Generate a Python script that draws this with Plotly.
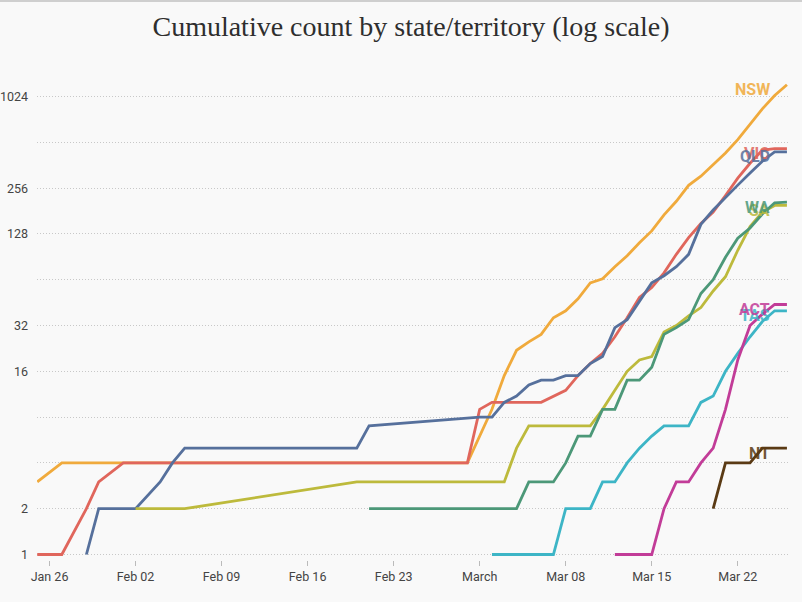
import math
from datetime import datetime, timedelta
import plotly.graph_objects as go

# ---------------- data ----------------
nsw_dates = ["2020-01-25", "2020-01-27", "2020-02-29", "2020-03-01", "2020-03-02", "2020-03-03",
             "2020-03-04", "2020-03-05", "2020-03-06", "2020-03-07", "2020-03-08", "2020-03-09",
             "2020-03-10", "2020-03-11", "2020-03-12", "2020-03-13", "2020-03-14", "2020-03-15",
             "2020-03-16", "2020-03-17", "2020-03-18", "2020-03-19", "2020-03-20", "2020-03-21",
             "2020-03-22", "2020-03-23", "2020-03-24", "2020-03-25", "2020-03-26"]
nsw_values = [3, 4, 4, 6, 9, 15, 22, 25, 28, 36, 40, 48, 61, 65, 78, 92, 112, 134, 171, 210,
              267, 307, 365, 436, 533, 675, 850, 1040, 1225]

vic_dates = ["2020-01-25", "2020-01-27", "2020-01-29", "2020-01-30", "2020-02-01", "2020-02-29",
             "2020-03-01", "2020-03-02", "2020-03-06", "2020-03-07", "2020-03-08", "2020-03-09",
             "2020-03-10", "2020-03-11", "2020-03-12", "2020-03-13", "2020-03-14", "2020-03-15",
             "2020-03-16", "2020-03-17", "2020-03-18", "2020-03-19", "2020-03-20", "2020-03-21",
             "2020-03-22", "2020-03-23", "2020-03-24", "2020-03-25", "2020-03-26"]
vic_values = [1, 1, 2, 3, 4, 4, 9, 10, 10, 11, 12, 15, 18, 21, 27, 36, 49, 57, 71, 94, 121,
              150, 178, 229, 298, 373, 455, 466, 466]

qld_dates = ["2020-01-29", "2020-01-30", "2020-02-02", "2020-02-04", "2020-02-05", "2020-02-06",
             "2020-02-20", "2020-02-21", "2020-03-01", "2020-03-02", "2020-03-03", "2020-03-04",
             "2020-03-05", "2020-03-06", "2020-03-07", "2020-03-08", "2020-03-09", "2020-03-10",
             "2020-03-11", "2020-03-12", "2020-03-13", "2020-03-14", "2020-03-15", "2020-03-16",
             "2020-03-17", "2020-03-18", "2020-03-19", "2020-03-20", "2020-03-21", "2020-03-22",
             "2020-03-23", "2020-03-24", "2020-03-25", "2020-03-26"]
qld_values = [1, 2, 2, 3, 4, 5, 5, 7, 8, 8, 10, 11, 13, 14, 14, 15, 15, 18, 20, 31, 35, 46,
              61, 68, 78, 94, 148, 184, 223, 268, 322, 385, 443, 443]

sa_dates = ["2020-02-02", "2020-02-06", "2020-02-20", "2020-03-03", "2020-03-04", "2020-03-05",
            "2020-03-10", "2020-03-11", "2020-03-12", "2020-03-13", "2020-03-14", "2020-03-15",
            "2020-03-16", "2020-03-17", "2020-03-18", "2020-03-19", "2020-03-20", "2020-03-21",
            "2020-03-22", "2020-03-23", "2020-03-24", "2020-03-25", "2020-03-26"]
sa_values = [2, 2, 3, 3, 5, 7, 7, 9, 12, 16, 19, 20, 29, 32, 37, 42, 54, 67, 100, 143, 178,
             197, 197]

wa_dates = ["2020-02-21", "2020-03-04", "2020-03-05", "2020-03-07", "2020-03-08", "2020-03-09",
            "2020-03-10", "2020-03-11", "2020-03-12", "2020-03-13", "2020-03-14", "2020-03-15",
            "2020-03-16", "2020-03-17", "2020-03-18", "2020-03-19", "2020-03-20", "2020-03-21",
            "2020-03-22", "2020-03-23", "2020-03-24", "2020-03-25", "2020-03-26"]
wa_values = [2, 2, 3, 3, 4, 6, 6, 9, 9, 14, 14, 17, 28, 31, 35, 52, 64, 90, 120, 140, 173,
             205, 207]

tas_dates = ["2020-03-02", "2020-03-07", "2020-03-08", "2020-03-10", "2020-03-11", "2020-03-12",
             "2020-03-13", "2020-03-14", "2020-03-15", "2020-03-16", "2020-03-18", "2020-03-19",
             "2020-03-20", "2020-03-21", "2020-03-22", "2020-03-23", "2020-03-24", "2020-03-25",
             "2020-03-26"]
tas_values = [1, 1, 2, 2, 3, 3, 4, 5, 6, 7, 7, 10, 11, 16, 21, 27, 34, 40, 40]

act_dates = ["2020-03-12", "2020-03-15", "2020-03-16", "2020-03-17", "2020-03-18", "2020-03-19",
             "2020-03-20", "2020-03-21", "2020-03-22", "2020-03-23", "2020-03-24", "2020-03-25",
             "2020-03-26"]
act_values = [1, 1, 2, 3, 3, 4, 5, 9, 19, 32, 38, 44, 44]

nt_dates = ["2020-03-20", "2020-03-21", "2020-03-23", "2020-03-24", "2020-03-26"]
nt_values = [2, 4, 4, 5, 5]

x_tick_dates = ["2020-01-26", "2020-02-02", "2020-02-09", "2020-02-16", "2020-02-23",
                "2020-03-01", "2020-03-08", "2020-03-15", "2020-03-22"]
x_tick_labels = ["Jan 26", "Feb 02", "Feb 09", "Feb 16", "Feb 23", "March", "Mar 08",
                 "Mar 15", "Mar 22"]
y_tick_values = [1, 2, 4, 8, 16, 32, 64, 128, 256, 512, 1024]
y_tick_labels = ["1", "2", "", "", "16", "32", "", "128", "256", "", "1024"]

# drawing order: bottom -> top
series = [
    ("NSW", nsw_dates, nsw_values, "#F0AA3C"),
    ("VIC", vic_dates, vic_values, "#E0665C"),
    ("QLD", qld_dates, qld_values, "#56709C"),
    ("SA", sa_dates, sa_values, "#BDBA3C"),
    ("WA", wa_dates, wa_values, "#4C9878"),
    ("TAS", tas_dates, tas_values, "#3DB5C6"),
    ("ACT", act_dates, act_values, "#C23C98"),
    ("NT", nt_dates, nt_values, "#5A3A14"),
]

fig = go.Figure()
annotations = []
for name, dates, values, color in series:
    fig.add_trace(go.Scatter(x=dates, y=values, mode="lines", name=name,
                             line=dict(color=color, width=2.8), hoverinfo="skip"))
    annotations.append(dict(x=dates[-1], y=math.log10(values[-1]), xref="x", yref="y",
                            text="<b>%s</b>" % name, showarrow=False, xanchor="right",
                            yanchor="middle", xshift=-15, yshift=-5, opacity=0.85,
                            font=dict(family="Roboto", size=16, color=color)))

start = datetime(2020, 1, 25)
x_range = [start - timedelta(days=0.02), start + timedelta(days=61.25)]

BG = "#f9f9f9"
fig.update_layout(
    width=802, height=602,
    margin=dict(l=37, r=12, t=70, b=42, autoexpand=False),
    paper_bgcolor=BG, plot_bgcolor=BG,
    showlegend=False,
    title=dict(text="Cumulative count by state/territory (log scale)",
               x=411 / 802, xref="container", xanchor="center",
               y=1 - 26 / 602, yref="container", yanchor="middle",
               font=dict(family="Liberation Serif", size=28, color="#2e2e2e")),
    annotations=annotations,
    xaxis=dict(type="date", range=x_range, tickvals=x_tick_dates, ticktext=x_tick_labels,
               showgrid=False, zeroline=False, showline=False, automargin=False,
               ticks="outside", ticklen=5, tickwidth=1, tickcolor="#bbbbbb",
               tickfont=dict(family="Roboto", size=12.5, color="#444444")),
    yaxis=dict(type="log", range=[-0.0362, 3.185], tickvals=y_tick_values,
               ticktext=y_tick_labels, showgrid=True, gridcolor="#c8c8c8", griddash="1px,2px",
               gridwidth=1, zeroline=False, showline=False, ticks="", automargin=False,
               ticklabelstandoff=8,
               tickfont=dict(family="Roboto", size=12.5, color="#444444")),
    shapes=[dict(type="line", xref="paper", yref="paper",
                 x0=-37 / 753, x1=(802 - 37) / 753,
                 y0=1 + 69 / 490, y1=1 + 69 / 490,
                 line=dict(color="#cfcfcf", width=2))],
)

fig.write_html("out.html", config={"displayModeBar": False},
               post_script="document.body.style.margin='0';document.body.style.overflow='hidden';")
